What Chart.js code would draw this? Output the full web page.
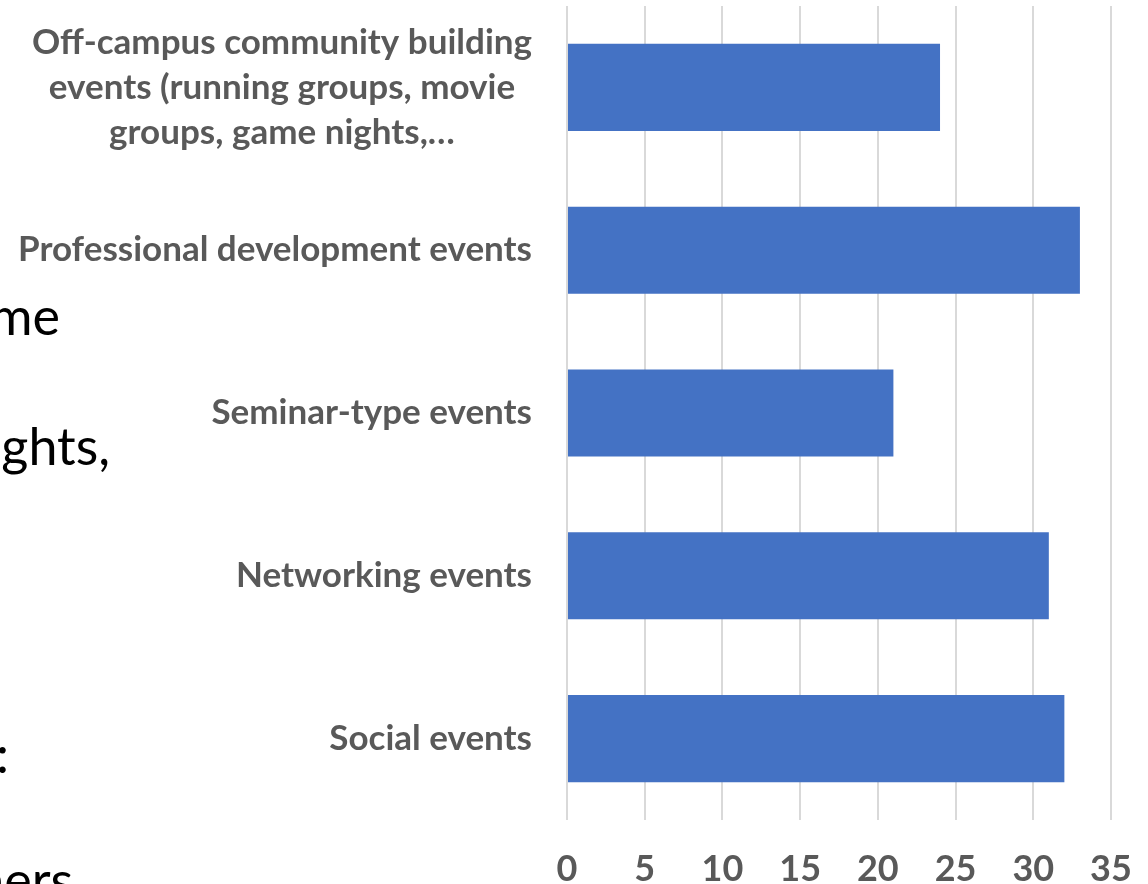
<!DOCTYPE html>
<html>
<head>
<meta charset="utf-8">
<script src="https://cdn.jsdelivr.net/npm/chart.js@4.4.1/dist/chart.umd.min.js"></script>
<style>
    html, body { margin: 0; padding: 0; background: #fff; overflow: hidden; }
    #wrap { position: relative; width: 1148px; height: 884px; }
    .bg { position: absolute; font-family: "Lato", sans-serif; font-size: 52px; line-height: 52px; color: #000; white-space: nowrap; text-align: right; }
    canvas { position: absolute; left: 0; top: 0; }
</style>
</head>
<body>
<div id="wrap">
    <!-- restos del texto de la diapositiva detrás del gráfico -->
    <div class="bg" style="right: calc(100% - 60px); top: 289px;">me</div>
    <div class="bg" style="right: calc(100% - 110px); top: 419px;">ghts,</div>
    <div class="bg" style="right: calc(100% - 9px); top: 727px;">:</div>
    <div class="bg" style="right: calc(100% - 73px); top: 853px;">ners</div>
    <canvas id="chartEventos" width="1148" height="884"></canvas>
</div>
<script>
const categorias = [
    ['Off-campus community building', 'events (running groups, movie', 'groups, game nights,…'],
    'Professional development events',
    'Seminar-type events',
    'Networking events',
    'Social events'
];
const valores = [24, 33, 21, 31, 32];
const ticksX = [0, 5, 10, 15, 20, 25, 30, 35];

const FUENTE = '"Lato", sans-serif';
const GRIS = '#595959';

// Etiquetas del eje Y: bloque alineado a la derecha, líneas centradas (como Excel)
const etiquetasY = {
    id: 'etiquetasY',
    afterDraw(chart) {
        const ctx = chart.ctx;
        const y = chart.scales.y;
        const derecha = y.right - 35;
        ctx.save();
        ctx.font = 'bold 35px ' + FUENTE;
        ctx.fillStyle = GRIS;
        ctx.textAlign = 'center';
        ctx.textBaseline = 'middle';
        chart.data.labels.forEach((lab, i) => {
            const lineas = Array.isArray(lab) ? lab : [lab];
            const ancho = Math.max(...lineas.map(l => ctx.measureText(l).width));
            const cx = derecha - ancho / 2;
            const cy = y.getPixelForTick(i);
            const alto = 45;
            lineas.forEach((l, k) => {
                ctx.fillText(l, cx, cy + (k - (lineas.length - 1) / 2) * alto);
            });
        });
        ctx.restore();
    }
};

new Chart(document.getElementById('chartEventos'), {
    type: 'bar',
    data: {
        labels: categorias,
        datasets: [{
            data: valores,
            backgroundColor: '#4472c4',
            borderWidth: 0,
            categoryPercentage: 1,
            barPercentage: 0.535
        }]
    },
    options: {
        indexAxis: 'y',
        responsive: false,
        animation: false,
        events: [],
        layout: { padding: { top: 6, right: 37, left: 0, bottom: 0 } },
        plugins: { legend: { display: false }, tooltip: { enabled: false } },
        scales: {
            x: {
                min: 0,
                max: 35,
                afterBuildTicks: s => { s.ticks = ticksX.map(v => ({ value: v })); },
                afterFit: s => { s.height = 64; s.paddingLeft = 0; s.paddingRight = 0; },
                grid: { color: '#d9d9d9', lineWidth: 2, drawTicks: false },
                border: { display: false },
                ticks: {
                    color: GRIS,
                    font: { family: FUENTE, size: 36, weight: 'bold' },
                    padding: 28,
                    maxRotation: 0
                }
            },
            y: {
                afterFit: s => { s.width = 567; },
                grid: { display: false },
                border: { display: false },
                ticks: { display: false }
            }
        }
    },
    plugins: [etiquetasY]
});
</script>
</body>
</html>
